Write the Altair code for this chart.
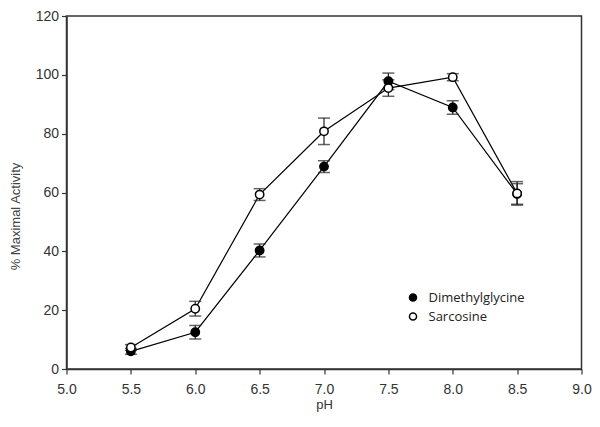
import altair as alt
import pandas as pd

ph = [5.5, 6.0, 6.5, 7.0, 7.5, 8.0, 8.5]
dmg = [6.0, 12.5, 40.3, 68.8, 97.8, 88.9, 59.5]
dmg_err = [1.0, 2.3, 2.2, 2.0, 2.8, 2.3, 3.5]
sar = [7.3, 20.5, 59.3, 80.8, 95.5, 99.2, 59.7]
sar_err = [1.0, 2.5, 2.0, 4.5, 2.8, 1.2, 4.0]
series_names = ["Dimethylglycine", "Sarcosine"]
x_ticks = [5.0, 5.5, 6.0, 6.5, 7.0, 7.5, 8.0, 8.5, 9.0]
y_ticks = [0, 20, 40, 60, 80, 100, 120]

rows = []
for name, vals, errs in [(series_names[0], dmg, dmg_err), (series_names[1], sar, sar_err)]:
    for p, v, e in zip(ph, vals, errs):
        rows.append({"pH": p, "value": v, "lo": v - e, "hi": v + e, "series": name})
df = pd.DataFrame(rows)

AX = "Liberation Sans"

xenc = alt.X("pH:Q", scale=alt.Scale(domain=[5.0, 9.0], nice=False),
             axis=alt.Axis(values=x_ticks, format=".1f", title="pH", grid=False,
                           domainColor="#333", domainWidth=1.5, tickColor="#333",
                           tickWidth=1.2, tickSize=5, labelPadding=8,
                           labelFont=AX, labelFontSize=14, labelColor="#333",
                           titleFont=AX, titleFontSize=13, titleFontWeight="normal",
                           titleColor="#333", titlePadding=2, labelFlush=False))
yenc = alt.Y("value:Q", scale=alt.Scale(domain=[0, 120], nice=False),
             axis=alt.Axis(values=y_ticks, title="% Maximal Activity", grid=False,
                           domainColor="#333", domainWidth=1.5, tickColor="#333",
                           tickWidth=1.2, tickSize=5, labelPadding=3,
                           labelFont=AX, labelFontSize=14, labelColor="#333",
                           titleFont=AX, titleFontSize=13, titleFontWeight="normal",
                           titleColor="#444", titleX=-51, titleY=200,
                           titleAlign="center", titleBaseline="middle", labelFlush=False))

base = alt.Chart(df)

lines = base.mark_line(color="black", strokeWidth=1.2).encode(
    x=xenc, y=yenc, detail="series:N")

bars = base.mark_rule(color="#222", strokeWidth=1.2).encode(
    x="pH:Q", y="lo:Q", y2="hi:Q")

cap_lo = base.mark_tick(color="#222", orient="horizontal", size=12, thickness=1.5).encode(
    x="pH:Q", y="lo:Q")
cap_hi = base.mark_tick(color="#222", orient="horizontal", size=12, thickness=1.5).encode(
    x="pH:Q", y="hi:Q")

points = base.mark_point(filled=False, shape="circle", size=70, stroke="black",
                         strokeWidth=1.5, opacity=1).encode(
    x="pH:Q", y="value:Q",
    fill=alt.Fill("series:N",
                  scale=alt.Scale(domain=series_names, range=["black", "white"]),
                  legend=alt.Legend(title=None, orient="none", legendX=340, legendY=275,
                                    symbolType="circle", symbolSize=50,
                                    symbolStrokeColor="black", symbolStrokeWidth=1.5,
                                    labelFont="Open Sans", labelFontSize=13,
                                    labelColor="#222", labelOffset=9, rowPadding=4,
                                    padding=0)))

chart = alt.layer(lines, bars, cap_lo, cap_hi, points).properties(
    width=515, height=353,
    autosize=alt.AutoSizeParams(type="none"),
    padding={"left": 58.5, "top": 8, "right": 10.5, "bottom": 44},
).configure_view(stroke="#333", strokeWidth=1.5)

chart.save("out.html", embed_options={"renderer": "svg", "actions": False})
